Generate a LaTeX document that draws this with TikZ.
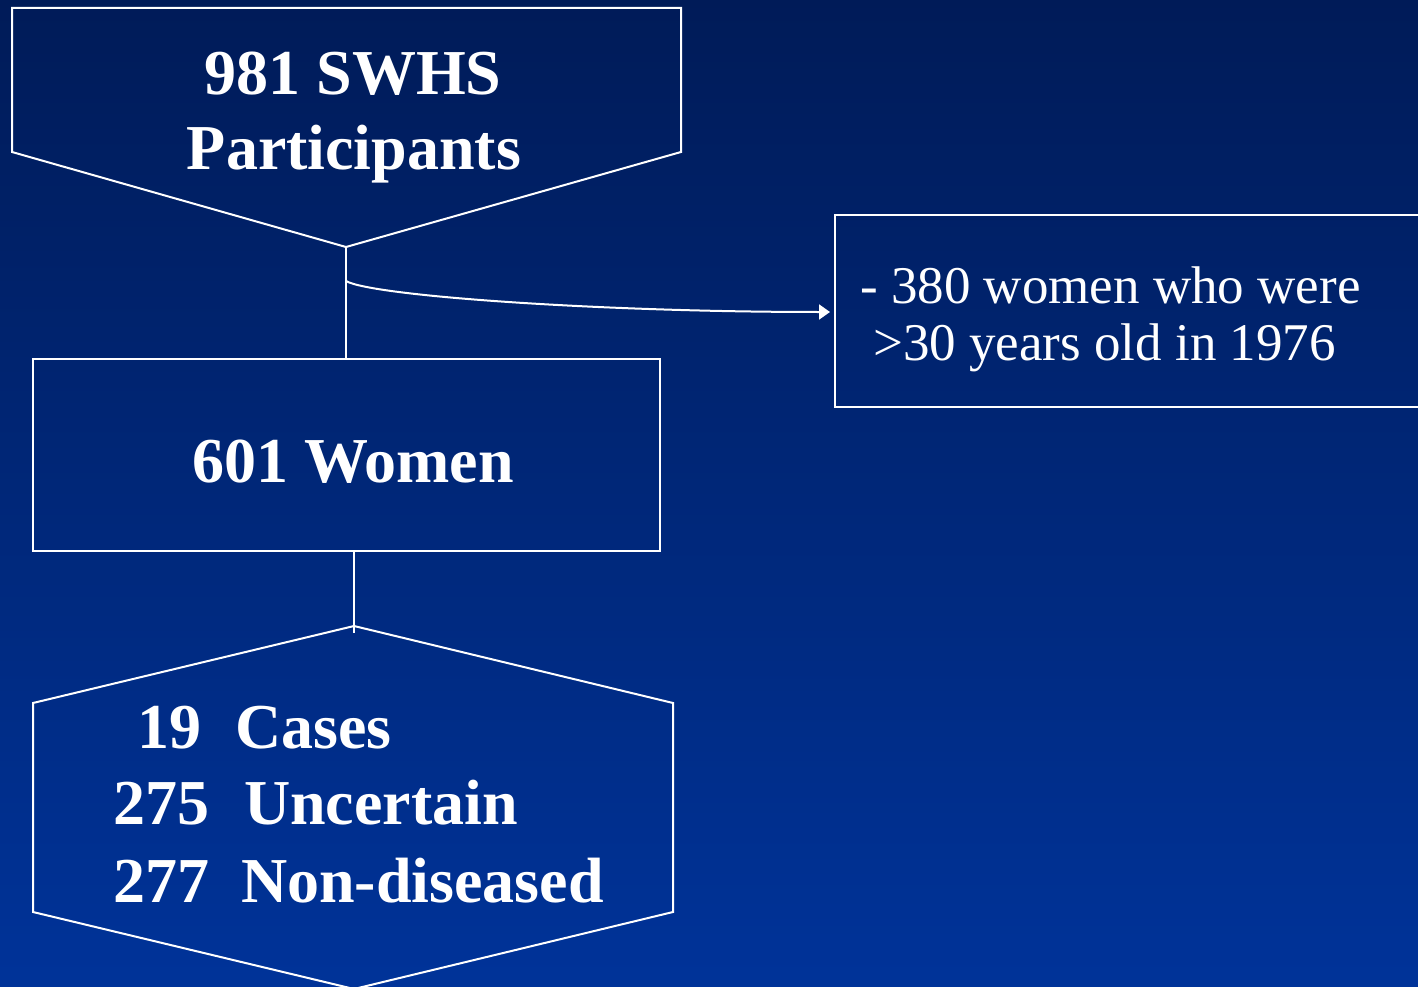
\documentclass[tikz,border=0pt]{standalone}
\usepackage{fontspec}
\setmainfont{Liberation Serif}
\usetikzlibrary{arrows.meta}
\definecolor{bgtop}{RGB}{0,27,88}
\definecolor{bgbot}{RGB}{0,51,153}
\begin{document}
\begin{tikzpicture}[x=1pt,y=-1pt,
  shapeline/.style={draw=white,line width=2pt},
  conn/.style={draw=white,line width=2pt},
  boldtxt/.style={text=white,inner sep=0pt,font=\fontsize{64}{75}\selectfont\bfseries},
  plaintxt/.style={text=white,inner sep=0pt,font=\fontsize{53}{57}\selectfont}]
\useasboundingbox (0,0) rectangle (1418,987);
\fill[top color=bgtop,bottom color=bgbot] (0,0) rectangle (1418,987);
\clip (0,0) rectangle (1418,987);

% top pentagon
\coordinate (tA) at (346,247);
\draw[shapeline] (12,8) -- (681,8) -- (681,152) -- (tA) -- (12,152) -- cycle;
\node[boldtxt,anchor=base] (t1) at (353,95) {981 SWHS};
\node[boldtxt,anchor=base] (t2) at (354,170) {Participants};

% 601 women box
\node[shapeline,rectangle,minimum width=627pt,minimum height=192pt,inner sep=0pt] (women) at (346.5,455) {};
\node[boldtxt,anchor=base] (womentxt) at (353,482) {601 Women};

% exclusion box
\coordinate (xTL) at (835,215);
\coordinate (xBL) at (835,407);
\draw[shapeline] (1425,215) -- (xTL) -- (xBL) -- (1425,407);
\node[plaintxt,anchor=base west] (x1) at (860,303) {- 380 women who were};
\node[plaintxt,anchor=base west] (x2) at (873,360) {>30 years old in 1976};

% connectors
\coordinate (branch) at (346,281);
\coordinate (arrowend) at (830,312);
\draw[conn] (tA) -- (tA |- women.north);
\draw[conn,-{Triangle[length=11pt,width=15pt]}] (branch) .. controls (372,296) and (600,312) .. (arrowend);

% hexagon
\coordinate (hTop) at (354,626);
\coordinate (hIn) at (354,633);
\draw[shapeline] (hTop) -- (673,703) -- (673,912) -- (354,989) -- (33,912) -- (33,703) -- cycle;
\draw[conn] (hTop |- women.south) -- (hIn);

\node[boldtxt,anchor=base west] (n1) at (137,748) {19};
\node[boldtxt,anchor=base west] (w1) at (235,748) {Cases};
\node[boldtxt,anchor=base west] (n2) at (113,824) {275};
\node[boldtxt,anchor=base west] (w2) at (244,824) {Uncertain};
\node[boldtxt,anchor=base west] (n3) at (113,902) {277};
\node[boldtxt,anchor=base west] (w3) at (241,902) {Non-diseased};
\end{tikzpicture}
\end{document}
